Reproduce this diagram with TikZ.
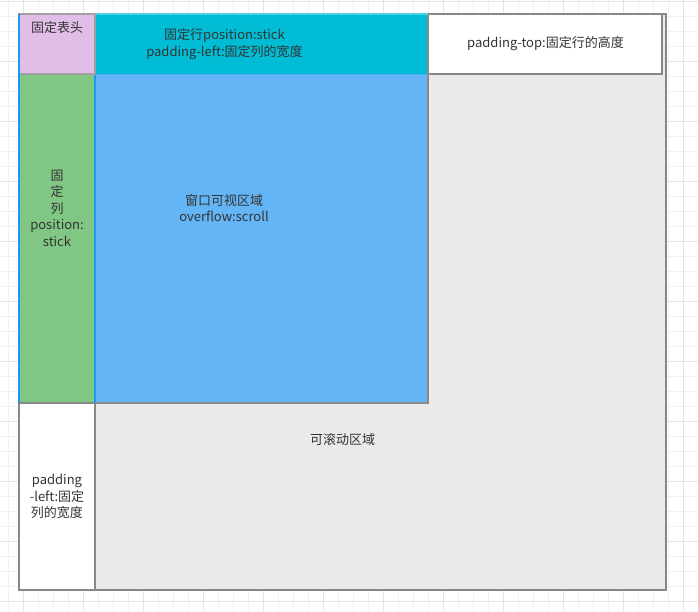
\documentclass[tikz,border=0pt]{standalone}
\usepackage{fontspec}
\setmainfont{Noto Sans CJK SC}
\definecolor{gridminor}{HTML}{F1F1F1}
\definecolor{gridmajor}{HTML}{E3E3E3}
\definecolor{scrollfill}{HTML}{EAEAEA}
\definecolor{edgegray}{HTML}{888888}
\definecolor{rowcyan}{HTML}{00BCD4}
\definecolor{rowcyanedge}{HTML}{4DD0E1}
\definecolor{headpink}{HTML}{E1BEE7}
\definecolor{colgreen}{HTML}{81C784}
\definecolor{viewblue}{HTML}{64B5F6}
\definecolor{edgeblue}{HTML}{2196F3}
\definecolor{txt}{HTML}{333333}
\begin{document}
\begin{tikzpicture}[x=1pt,y=-1pt,
  box/.style={rectangle,inner sep=0pt,outer sep=0pt},
  lbl/.style={text=txt,font=\fontsize{13}{16.5}\selectfont,align=center,inner sep=0pt}]
\useasboundingbox (0,0) rectangle (698,611);
\fill[white] (0,0) rectangle (698,611);
% grid
\foreach \x in {8.3,23.3,...,698} {\draw[gridminor,line width=1pt] (\x,0) -- (\x,611);}
\foreach \y in {1.7,16.7,...,611} {\draw[gridminor,line width=1pt] (0,\y) -- (698,\y);}
\foreach \x in {23.3,83.3,...,698} {\draw[gridmajor,line width=1pt] (\x,0) -- (\x,611);}
\foreach \y in {1.7,61.7,...,611} {\draw[gridmajor,line width=1pt] (0,\y) -- (698,\y);}
% scroll area
\node[box,fill=scrollfill,draw=edgegray,line width=1.6pt,minimum width=647pt,minimum height=576pt] (scroll) at (342.5,302) {};
% padding-top box
\node[box,fill=white,draw=edgegray,line width=1.6pt,minimum width=234pt,minimum height=60pt] (padtop) at (545,44) {};
% padding-left box
\node[box,fill=white,draw=edgegray,line width=1.6pt,minimum width=76pt,minimum height=187pt] (padleft) at (57,496.5) {};
% viewport
\node[box,fill=viewblue,minimum width=409pt,minimum height=389pt] (view) at (223.5,208.5) {};
% fixed row
\node[box,fill=rowcyan,minimum width=333pt,minimum height=60pt] (row) at (261.5,44) {};
% fixed header
\node[box,fill=headpink,minimum width=76pt,minimum height=60pt] (head) at (57,44) {};
% fixed column
\node[box,fill=colgreen,minimum width=76pt,minimum height=329pt] (col) at (57,238.5) {};
% edges
\draw[edgegray,line width=1.6pt] (view.south west) -- (view.south east) -- (view.north east);
\draw[rowcyanedge,line width=1.5pt] (view.north west) -- (view.north east);
\draw[viewblue!70!edgeblue,line width=1pt] (row.south west) -- (row.south east);
\draw[edgeblue,line width=1.5pt] (col.north east) -- (col.south east);
\draw[edgegray!80,line width=1.2pt] (head.north west) rectangle (head.south east);
\draw[edgeblue,line width=1.5pt] (view.north west) -- (view.south west);
% labels
\node[lbl] (tHead) at (57,28) {固定表头};
\node[lbl] (tRow) at (224.5,44) {固定行position:stick\\padding-left:固定列的宽度};
\node[lbl] (tTop) at (545.5,44) {padding-top:固定行的高度};
\node[lbl] (tCol) at (57,208) {固\\定\\列\\position:\\stick};
\node[lbl] (tView) at (224,208) {窗口可视区域\\overflow:scroll};
\node[lbl] (tScroll) at (342.5,440) {可滚动区域};
\node[lbl] (tLeft) at (57,496.5) {padding\\-left:固定\\列的宽度};
\end{tikzpicture}
\end{document}
